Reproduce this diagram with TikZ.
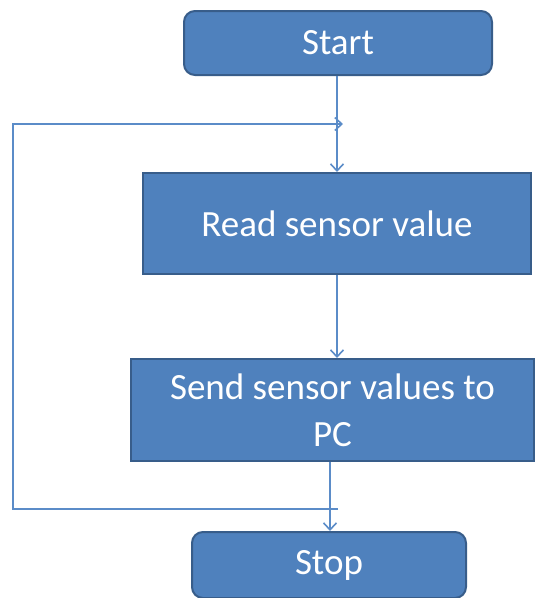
\documentclass[tikz,border=0pt]{standalone}
\usepackage{fontspec}
\setmainfont{Carlito}
\usetikzlibrary{arrows.meta}
\definecolor{boxfill}{HTML}{4F81BD}
\definecolor{boxline}{HTML}{385D8A}
\definecolor{conn}{HTML}{5B8CC8}
\begin{document}
\begin{tikzpicture}[x=1pt,y=-1pt,
  box/.style={draw=boxline, fill=boxfill, line width=2pt, text=white,
    font=\fontsize{37}{47}\selectfont, inner sep=0pt, anchor=north west},
  term/.style={box, rounded corners=11pt},
  link/.style={draw=conn, line width=1.6pt},
  arr/.style={link, -{Straight Barb[length=7pt,width=13pt,line width=1.6pt]}}]
\useasboundingbox (0,0) rectangle (535,598);
\node[term, minimum width=308pt, minimum height=64pt] (start) at (183,10) {Start};
\node[box, minimum width=388pt, minimum height=101pt] (read) at (142,172) {Read sensor value};
\node[box, minimum width=403pt, minimum height=102pt, align=center] (send) at (130,358) {Send sensor values to\\PC};
\node[term, minimum width=274pt, minimum height=66pt] (stop) at (191,531) {Stop};
\coordinate (j1) at (337,124);
\coordinate (j2) at (330,509);
\coordinate (lb) at (13,509);
\coordinate (lt) at (13,124);
\coordinate (le) at (343,124);
\coordinate (be) at (338,509);
\draw[arr] (start.south -| j1) -- (read.north -| j1);
\draw[arr] (read.south -| j1) -- (send.north -| j1);
\draw[arr] (send.south -| j2) -- (stop.north -| j2);
\draw[arr] (be) -- (lb) -- (lt) -- (le);
\end{tikzpicture}
\end{document}
